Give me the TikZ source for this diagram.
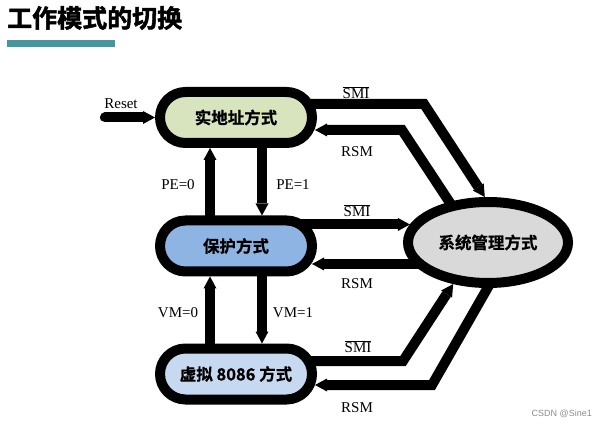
\documentclass[tikz,border=0pt]{standalone}
\usepackage{fontspec}
\setmainfont{Liberation Serif}
\newfontfamily\cjkbold{Noto Sans CJK SC Bold}[FakeBold=0.6]
\newfontfamily\cjkheavy{Noto Sans CJK SC Bold}[FakeBold=2]
\newfontfamily\wmfont{Liberation Sans}
\usetikzlibrary{arrows.meta,shapes.misc,shapes.geometric,backgrounds}

\definecolor{titlebar}{HTML}{44969F}
\definecolor{realfill}{HTML}{D7E4BD}
\definecolor{protfill}{HTML}{8EB4E3}
\definecolor{vmfill}{HTML}{C6D9F1}
\definecolor{smmfill}{HTML}{D9D9D9}

\tikzset{
	mode/.style={rounded rectangle, draw=black, line width=10pt, minimum width=152pt, minimum height=51pt, inner sep=0pt, font=\cjkbold\fontsize{16.5}{20}\selectfont},
	bar/.style={draw=black, line width=10pt, -{Triangle[length=12pt,width=13pt,line width=0pt]}},
	lbl/.style={font=\fontsize{15}{18}\selectfont, inner sep=0pt},
}

\begin{document}
\begin{tikzpicture}[x=1pt,y=-1pt]
	\useasboundingbox (0,0) rectangle (607,427);
	
	\node[font=\cjkheavy\fontsize{25}{29}\selectfont, anchor=west, inner sep=0pt] (title) at (7,18) {工作模式的切换};
	\fill[titlebar] (7,40) rectangle (115,47);
	
	\node[mode, fill=realfill] (real) at (236,117.5) {实地址方式};
	\node[mode, fill=protfill] (prot) at (236,246) {保护方式};
	\node[mode, fill=vmfill] (vm) at (236,374) {虚拟 8086 方式};
	\node[ellipse, draw=black, line width=10pt, fill=smmfill, minimum width=160pt, minimum height=81pt, inner sep=0pt, font=\cjkbold\fontsize{16.5}{20}\selectfont] (smm) at (488,242.5) {系统管理方式};
	
	\coordinate (rsmi) at (424,104);
	\coordinate (rrsm) at (402,130);
	\coordinate (rrsmin) at (456,212);
	\coordinate (vsmi) at (403,361);
	\coordinate (vrsm) at (432,385);
	\coordinate (vrsmin) at (499,268);
	
	\begin{scope}[on background layer]
		\draw[bar, line cap=round] ([xshift=-50pt]real.west) -- (real.west);
		
		\draw[bar] ([xshift=-26pt]prot.center) -- ([xshift=-26pt]real.south);
		\draw[bar] ([xshift=26pt]real.center) -- ([xshift=26pt]prot.north);
		\draw[bar] ([xshift=-26pt]vm.center) -- ([xshift=-26pt]prot.south);
		\draw[bar] ([xshift=26pt]prot.center) -- ([xshift=26pt]vm.north);
		
		\draw[bar] (real.center |- rsmi) -- (rsmi) -- (smm.94);
		\draw[bar, shorten >=-2pt] (rrsmin) -- (rrsm) -- (real.east |- rrsm);
		\draw[bar] (prot.center |- smm.167) -- (smm.167);
		\draw[bar, shorten >=-5pt] (smm.center |- smm.196) -- (prot.east |- smm.196);
		\draw[bar] (vm.center |- vsmi) -- (vsmi) -- (smm.230);
		\draw[bar, shorten >=-2pt] (vrsmin) -- (vrsm) -- (vm.east |- vrsm);
	\end{scope}
	
	\node[lbl] (reset) at (121,104) {Reset};
	\node[lbl] (pe0) at (178,185) {PE=0};
	\node[lbl] (pe1) at (293,185) {PE=1};
	\node[lbl] (vm0) at (178,313) {VM=0};
	\node[lbl] (vm1) at (293,313) {VM=1};
	
	\node[lbl] (smi1) at (356,93) {$\overline{\hbox{SMI}}$};
	\node[lbl] (rsm1) at (357,152) {RSM};
	\node[lbl] (smi2) at (357,211) {$\overline{\hbox{SMI}}$};
	\node[lbl] (rsm2) at (357,284) {RSM};
	\node[lbl] (smi3) at (358,347) {$\overline{\hbox{SMI}}$};
	\node[lbl] (rsm3) at (357,408) {RSM};
	
	\node[font=\wmfont\fontsize{9}{11}\selectfont, text=black!45, anchor=east, inner sep=0pt] (wm) at (592,414) {CSDN @Sine1};
\end{tikzpicture}
\end{document}
